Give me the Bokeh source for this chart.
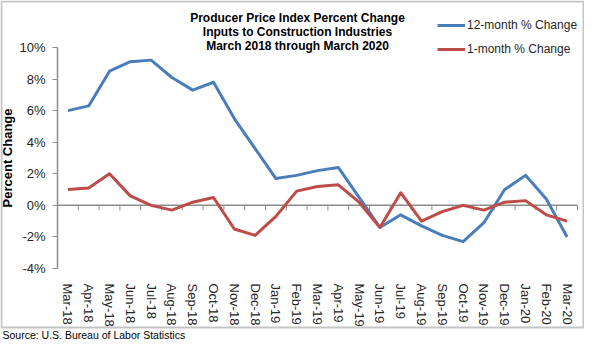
from bokeh.plotting import figure
from bokeh.models import Range1d, FixedTicker, Label, Legend, LegendItem
from bokeh.embed import file_html
from bokeh.resources import INLINE

months = ["Mar-18", "Apr-18", "May-18", "Jun-18", "Jul-18", "Aug-18", "Sep-18",
          "Oct-18", "Nov-18", "Dec-18", "Jan-19", "Feb-19", "Mar-19", "Apr-19",
          "May-19", "Jun-19", "Jul-19", "Aug-19", "Sep-19", "Oct-19", "Nov-19",
          "Dec-19", "Jan-20", "Feb-20", "Mar-20"]
change_12m = [6.0, 6.3, 8.5, 9.1, 9.2, 8.1, 7.3, 7.8, 5.5, 3.6, 1.7, 1.9, 2.2,
              2.4, 0.5, -1.4, -0.6, -1.3, -1.9, -2.3, -1.1, 1.0, 1.9, 0.4, -2.0]
change_1m = [1.0, 1.1, 2.0, 0.6, 0.0, -0.3, 0.2, 0.5, -1.5, -1.9, -0.7, 0.9, 1.2,
             1.3, 0.2, -1.4, 0.8, -1.0, -0.4, 0.0, -0.3, 0.2, 0.3, -0.6, -1.0]
y_ticks = [-4, -2, 0, 2, 4, 6, 8, 10]
y_tick_labels = ["-4%", "-2%", "0%", "2%", "4%", "6%", "8%", "10%"]
series_names = ["12-month % Change", "1-month % Change"]
title_lines = ["Producer Price Index Percent Change",
               "Inputs to Construction Industries",
               "March 2018 through March 2020"]
y_title = "Percent Change"
source_note = "Source: U.S. Bureau of Labor Statistics"

FONT = "Liberation Sans"
BLUE = "#4a7ebb"
RED = "#be4b48"
AXIS_GRAY = "#8c8c8c"
TEXT = "#262626"

# pixel layout (canvas coordinates, y measured from top)
W, H = 584, 340
AX_LEFT = 57          # y axis position
CAT_W = 20.8          # width of one month slot
Y_TOP_PX, Y_BOT_PX = 47, 268   # pixel rows of 10% and -4%
BORDER_BOTTOM_PX = 327

ymin, ymax = y_ticks[0], y_ticks[-1]
px_per_unit = (Y_BOT_PX - Y_TOP_PX) / (ymax - ymin)
y_hi = ymax + Y_TOP_PX / px_per_unit
y_lo = ymin - (H - Y_BOT_PX) / px_per_unit
x_lo = -AX_LEFT / CAT_W
x_hi = (W - AX_LEFT) / CAT_W

n = len(months)
x_pos = [i + 0.5 for i in range(n)]
bounds = list(range(n + 1))

p = figure(width=W, height=H, x_range=Range1d(x_lo, x_hi),
           y_range=Range1d(y_lo, y_hi), output_backend="svg",
           toolbar_location=None, min_border=0)
p.outline_line_color = None
p.xgrid.grid_line_color = None
p.ygrid.grid_line_color = None
p.background_fill_color = "white"
p.border_fill_color = "white"

# chart-area border (converted from pixel layout to data units)
p.quad(left=[x_lo + 1 / CAT_W], right=[x_hi - 1 / CAT_W],
       top=[y_hi - 1 / px_per_unit],
       bottom=[y_hi - BORDER_BOTTOM_PX / px_per_unit],
       fill_color=None, line_color="#c4c4c4", line_width=2)

# y axis, fixed at the left edge of the month slots
ya = p.yaxis[0]
ya.fixed_location = 0
ya.bounds = (ymin, ymax)
ya.ticker = FixedTicker(ticks=y_ticks)
ya.major_label_overrides = {t: l for t, l in zip(y_ticks, y_tick_labels)}
ya.minor_tick_line_color = None
ya.major_tick_out = 5
ya.major_tick_in = 0
ya.major_tick_line_color = AXIS_GRAY
ya.axis_line_color = AXIS_GRAY
ya.axis_line_width = 1.5
ya.major_label_standoff = 7
ya.major_label_text_font = FONT
ya.major_label_text_font_size = "13px"
ya.major_label_text_color = TEXT
ya.axis_label = y_title
ya.axis_label_text_font = FONT
ya.axis_label_text_font_size = "13px"
ya.axis_label_text_font_style = "bold"
ya.axis_label_text_color = "#000000"
ya.axis_label_standoff = 1

# x axis with month labels, fixed at the bottom value
xa = p.xaxis[0]
xa.fixed_location = ymin
xa.ticker = FixedTicker(ticks=x_pos)
xa.major_label_overrides = {x: m for x, m in zip(x_pos, months)}
xa.axis_line_color = None
xa.major_tick_line_color = None
xa.minor_tick_line_color = None
xa.major_label_orientation = "vertical"
xa.major_label_standoff = 9
xa.major_label_text_font = FONT
xa.major_label_text_font_size = "13px"
xa.major_label_text_color = TEXT

# zero line with ticks at month boundaries
tick_len = 5 / px_per_unit
p.segment(x0=[bounds[0]], y0=[0], x1=[bounds[-1]], y1=[0],
          line_color=AXIS_GRAY, line_width=1.5)
p.segment(x0=bounds, y0=[0] * len(bounds), x1=bounds,
          y1=[-tick_len] * len(bounds), line_color=AXIS_GRAY, line_width=1)

r1 = p.line(x=x_pos, y=change_12m, line_color=BLUE, line_width=3,
            line_join="round")
r2 = p.line(x=x_pos, y=change_1m, line_color=RED, line_width=3,
            line_join="round")

legend = Legend(items=[LegendItem(label=series_names[0], renderers=[r1]),
                       LegendItem(label=series_names[1], renderers=[r2])],
                location=(437, H - 59), glyph_width=28, glyph_height=20,
                label_height=20, label_standoff=2, spacing=4, padding=0,
                margin=0, border_line_color=None, background_fill_alpha=0,
                label_text_font=FONT, label_text_font_size="12px",
                label_text_color=TEXT)
p.add_layout(legend)

for i, line in enumerate(title_lines):
    p.add_layout(Label(x=297, y=H - 17 - 14 * i, x_units="screen",
                       y_units="screen", text=line, text_align="center",
                       text_baseline="middle", text_font=FONT,
                       text_font_style="bold", text_font_size="12px",
                       text_color="#000000"))

p.add_layout(Label(x=2, y=H - 334, x_units="screen", y_units="screen",
                   text=source_note, text_align="left",
                   text_baseline="middle", text_font=FONT,
                   text_font_size="10.5px", text_color="#000000"))

open("out.html", "w").write(file_html(p, INLINE))
